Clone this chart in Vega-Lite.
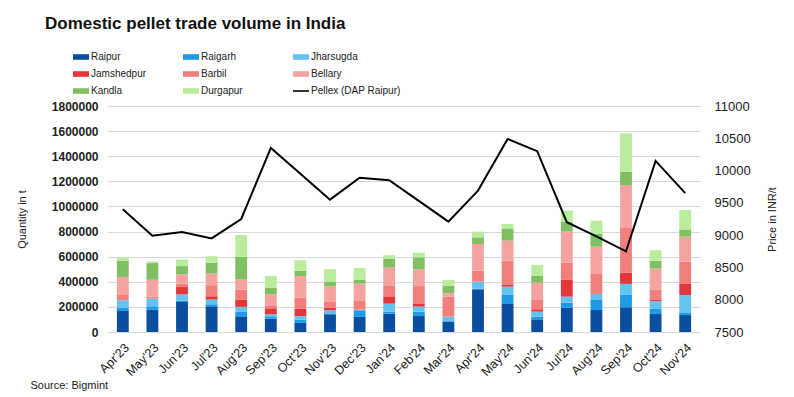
{
  "$schema": "https://vega.github.io/schema/vega-lite/v6.json",
  "width": 592,
  "height": 226,
  "autosize": {"type": "none"},
  "padding": {"left": 108, "top": 106, "right": 94, "bottom": 65},
  "background": "white",
  "title": {
    "text": "Domestic pellet trade volume in India",
    "anchor": "start",
    "frame": "group",
    "dx": -63,
    "dy": -12,
    "font": "Liberation Sans",
    "fontSize": 17,
    "fontWeight": "bold",
    "color": "#111111"
  },
  "config": {
    "view": {"stroke": null},
    "font": "Liberation Sans"
  },
  "datasets": {
    "rank": [
      {"r": "Raipur", "k": 1}, {"r": "Raigarh", "k": 2}, {"r": "Jharsugda", "k": 3}, {"r": "Jamshedpur", "k": 4},
      {"r": "Barbil", "k": 5}, {"r": "Bellary", "k": 6}, {"r": "Kandla", "k": 7}, {"r": "Durgapur", "k": 8}
    ],
    "vol": [
      {"m": "Apr'23", "r": "Raipur", "v": 167000}, {"m": "Apr'23", "r": "Raigarh", "v": 27000}, {"m": "Apr'23", "r": "Jharsugda", "v": 58000}, {"m": "Apr'23", "r": "Barbil", "v": 48000}, {"m": "Apr'23", "r": "Bellary", "v": 138000}, {"m": "Apr'23", "r": "Kandla", "v": 127000}, {"m": "Apr'23", "r": "Durgapur", "v": 24000},
      {"m": "May'23", "r": "Raipur", "v": 178000}, {"m": "May'23", "r": "Raigarh", "v": 27000}, {"m": "May'23", "r": "Jharsugda", "v": 61000}, {"m": "May'23", "r": "Barbil", "v": 15000}, {"m": "May'23", "r": "Bellary", "v": 135000}, {"m": "May'23", "r": "Kandla", "v": 133000}, {"m": "May'23", "r": "Durgapur", "v": 13000},
      {"m": "Jun'23", "r": "Raipur", "v": 239000}, {"m": "Jun'23", "r": "Raigarh", "v": 10000}, {"m": "Jun'23", "r": "Jharsugda", "v": 51000}, {"m": "Jun'23", "r": "Jamshedpur", "v": 58000}, {"m": "Jun'23", "r": "Barbil", "v": 27000}, {"m": "Jun'23", "r": "Bellary", "v": 74000}, {"m": "Jun'23", "r": "Kandla", "v": 66000}, {"m": "Jun'23", "r": "Durgapur", "v": 53000},
      {"m": "Jul'23", "r": "Raipur", "v": 205000}, {"m": "Jul'23", "r": "Raigarh", "v": 16000}, {"m": "Jul'23", "r": "Jharsugda", "v": 37000}, {"m": "Jul'23", "r": "Jamshedpur", "v": 27000}, {"m": "Jul'23", "r": "Barbil", "v": 88000}, {"m": "Jul'23", "r": "Bellary", "v": 93000}, {"m": "Jul'23", "r": "Kandla", "v": 85000}, {"m": "Jul'23", "r": "Durgapur", "v": 53000},
      {"m": "Aug'23", "r": "Raipur", "v": 125000}, {"m": "Aug'23", "r": "Raigarh", "v": 35000}, {"m": "Aug'23", "r": "Jharsugda", "v": 40000}, {"m": "Aug'23", "r": "Jamshedpur", "v": 58000}, {"m": "Aug'23", "r": "Barbil", "v": 80000}, {"m": "Aug'23", "r": "Bellary", "v": 80000}, {"m": "Aug'23", "r": "Kandla", "v": 181000}, {"m": "Aug'23", "r": "Durgapur", "v": 173000},
      {"m": "Sep'23", "r": "Raipur", "v": 106000}, {"m": "Sep'23", "r": "Raigarh", "v": 19000}, {"m": "Sep'23", "r": "Jharsugda", "v": 16000}, {"m": "Sep'23", "r": "Jamshedpur", "v": 48000}, {"m": "Sep'23", "r": "Barbil", "v": 24000}, {"m": "Sep'23", "r": "Bellary", "v": 88000}, {"m": "Sep'23", "r": "Kandla", "v": 53000}, {"m": "Sep'23", "r": "Durgapur", "v": 93000},
      {"m": "Oct'23", "r": "Raipur", "v": 72000}, {"m": "Oct'23", "r": "Raigarh", "v": 27000}, {"m": "Oct'23", "r": "Jharsugda", "v": 27000}, {"m": "Oct'23", "r": "Jamshedpur", "v": 61000}, {"m": "Oct'23", "r": "Barbil", "v": 88000}, {"m": "Oct'23", "r": "Bellary", "v": 170000}, {"m": "Oct'23", "r": "Kandla", "v": 42000}, {"m": "Oct'23", "r": "Durgapur", "v": 85000},
      {"m": "Nov'23", "r": "Raipur", "v": 141000}, {"m": "Nov'23", "r": "Raigarh", "v": 8000}, {"m": "Nov'23", "r": "Jharsugda", "v": 24000}, {"m": "Nov'23", "r": "Jamshedpur", "v": 21000}, {"m": "Nov'23", "r": "Barbil", "v": 45000}, {"m": "Nov'23", "r": "Bellary", "v": 125000}, {"m": "Nov'23", "r": "Kandla", "v": 35000}, {"m": "Nov'23", "r": "Durgapur", "v": 101000},
      {"m": "Dec'23", "r": "Raipur", "v": 120000}, {"m": "Dec'23", "r": "Raigarh", "v": 53000}, {"m": "Dec'23", "r": "Jharsugda", "v": 5000}, {"m": "Dec'23", "r": "Barbil", "v": 74000}, {"m": "Dec'23", "r": "Bellary", "v": 133000}, {"m": "Dec'23", "r": "Kandla", "v": 32000}, {"m": "Dec'23", "r": "Durgapur", "v": 93000},
      {"m": "Jan'24", "r": "Raipur", "v": 146000}, {"m": "Jan'24", "r": "Raigarh", "v": 15000}, {"m": "Jan'24", "r": "Jharsugda", "v": 65000}, {"m": "Jan'24", "r": "Jamshedpur", "v": 58000}, {"m": "Jan'24", "r": "Barbil", "v": 88000}, {"m": "Jan'24", "r": "Bellary", "v": 141000}, {"m": "Jan'24", "r": "Kandla", "v": 72000}, {"m": "Jan'24", "r": "Durgapur", "v": 27000},
      {"m": "Feb'24", "r": "Raipur", "v": 127000}, {"m": "Feb'24", "r": "Raigarh", "v": 35000}, {"m": "Feb'24", "r": "Jharsugda", "v": 40000}, {"m": "Feb'24", "r": "Jamshedpur", "v": 21000}, {"m": "Feb'24", "r": "Barbil", "v": 143000}, {"m": "Feb'24", "r": "Bellary", "v": 133000}, {"m": "Feb'24", "r": "Kandla", "v": 96000}, {"m": "Feb'24", "r": "Durgapur", "v": 37000},
      {"m": "Mar'24", "r": "Raipur", "v": 82000}, {"m": "Mar'24", "r": "Raigarh", "v": 5000}, {"m": "Mar'24", "r": "Jharsugda", "v": 35000}, {"m": "Mar'24", "r": "Barbil", "v": 159000}, {"m": "Mar'24", "r": "Bellary", "v": 27000}, {"m": "Mar'24", "r": "Kandla", "v": 61000}, {"m": "Mar'24", "r": "Durgapur", "v": 45000},
      {"m": "Apr'24", "r": "Raipur", "v": 340000}, {"m": "Apr'24", "r": "Raigarh", "v": 5000}, {"m": "Apr'24", "r": "Jharsugda", "v": 56000}, {"m": "Apr'24", "r": "Barbil", "v": 88000}, {"m": "Apr'24", "r": "Bellary", "v": 212000}, {"m": "Apr'24", "r": "Kandla", "v": 53000}, {"m": "Apr'24", "r": "Durgapur", "v": 45000},
      {"m": "May'24", "r": "Raipur", "v": 223000}, {"m": "May'24", "r": "Raigarh", "v": 72000}, {"m": "May'24", "r": "Jharsugda", "v": 66000}, {"m": "May'24", "r": "Jamshedpur", "v": 13000}, {"m": "May'24", "r": "Barbil", "v": 194000}, {"m": "May'24", "r": "Bellary", "v": 159000}, {"m": "May'24", "r": "Kandla", "v": 98000}, {"m": "May'24", "r": "Durgapur", "v": 35000},
      {"m": "Jun'24", "r": "Raipur", "v": 101000}, {"m": "Jun'24", "r": "Raigarh", "v": 21000}, {"m": "Jun'24", "r": "Jharsugda", "v": 40000}, {"m": "Jun'24", "r": "Jamshedpur", "v": 19000}, {"m": "Jun'24", "r": "Barbil", "v": 74000}, {"m": "Jun'24", "r": "Bellary", "v": 138000}, {"m": "Jun'24", "r": "Kandla", "v": 53000}, {"m": "Jun'24", "r": "Durgapur", "v": 88000},
      {"m": "Jul'24", "r": "Raipur", "v": 194000}, {"m": "Jul'24", "r": "Raigarh", "v": 40000}, {"m": "Jul'24", "r": "Jharsugda", "v": 48000}, {"m": "Jul'24", "r": "Jamshedpur", "v": 133000}, {"m": "Jul'24", "r": "Barbil", "v": 138000}, {"m": "Jul'24", "r": "Bellary", "v": 247000}, {"m": "Jul'24", "r": "Kandla", "v": 80000}, {"m": "Jul'24", "r": "Durgapur", "v": 88000},
      {"m": "Aug'24", "r": "Raipur", "v": 175000}, {"m": "Aug'24", "r": "Raigarh", "v": 80000}, {"m": "Aug'24", "r": "Jharsugda", "v": 48000}, {"m": "Aug'24", "r": "Barbil", "v": 159000}, {"m": "Aug'24", "r": "Bellary", "v": 218000}, {"m": "Aug'24", "r": "Kandla", "v": 101000}, {"m": "Aug'24", "r": "Durgapur", "v": 106000},
      {"m": "Sep'24", "r": "Raipur", "v": 197000}, {"m": "Sep'24", "r": "Raigarh", "v": 98000}, {"m": "Sep'24", "r": "Jharsugda", "v": 88000}, {"m": "Sep'24", "r": "Jamshedpur", "v": 90000}, {"m": "Sep'24", "r": "Barbil", "v": 361000}, {"m": "Sep'24", "r": "Bellary", "v": 337000}, {"m": "Sep'24", "r": "Kandla", "v": 106000}, {"m": "Sep'24", "r": "Durgapur", "v": 305000},
      {"m": "Oct'24", "r": "Raipur", "v": 143000}, {"m": "Oct'24", "r": "Raigarh", "v": 45000}, {"m": "Oct'24", "r": "Jharsugda", "v": 58000}, {"m": "Oct'24", "r": "Jamshedpur", "v": 13000}, {"m": "Oct'24", "r": "Barbil", "v": 80000}, {"m": "Oct'24", "r": "Bellary", "v": 167000}, {"m": "Oct'24", "r": "Kandla", "v": 61000}, {"m": "Oct'24", "r": "Durgapur", "v": 85000},
      {"m": "Nov'24", "r": "Raipur", "v": 135000}, {"m": "Nov'24", "r": "Raigarh", "v": 21000}, {"m": "Nov'24", "r": "Jharsugda", "v": 138000}, {"m": "Nov'24", "r": "Jamshedpur", "v": 93000}, {"m": "Nov'24", "r": "Barbil", "v": 173000}, {"m": "Nov'24", "r": "Bellary", "v": 199000}, {"m": "Nov'24", "r": "Kandla", "v": 58000}, {"m": "Nov'24", "r": "Durgapur", "v": 154000}
    ],
    "price": [
      {"m": "Apr'23", "p": 9400}, {"m": "May'23", "p": 8990}, {"m": "Jun'23", "p": 9050}, {"m": "Jul'23", "p": 8950},
      {"m": "Aug'23", "p": 9250}, {"m": "Sep'23", "p": 10350}, {"m": "Oct'23", "p": 9950}, {"m": "Nov'23", "p": 9550},
      {"m": "Dec'23", "p": 9890}, {"m": "Jan'24", "p": 9850}, {"m": "Feb'24", "p": 9530}, {"m": "Mar'24", "p": 9210},
      {"m": "Apr'24", "p": 9690}, {"m": "May'24", "p": 10490}, {"m": "Jun'24", "p": 10300}, {"m": "Jul'24", "p": 9200},
      {"m": "Aug'24", "p": 8980}, {"m": "Sep'24", "p": 8750}, {"m": "Oct'24", "p": 10150}, {"m": "Nov'24", "p": 9650}
    ]
  },
  "layer": [
    {
      "data": {"name": "vol"},
      "transform": [
        {"lookup": "r", "from": {"data": {"name": "rank"}, "key": "r", "fields": ["k"]}}
      ],
      "mark": {"type": "bar"},
      "encoding": {
        "x": {
          "field": "m",
          "type": "nominal",
          "scale": {
            "domain": ["Apr'23", "May'23", "Jun'23", "Jul'23", "Aug'23", "Sep'23", "Oct'23", "Nov'23", "Dec'23", "Jan'24", "Feb'24", "Mar'24", "Apr'24", "May'24", "Jun'24", "Jul'24", "Aug'24", "Sep'24", "Oct'24", "Nov'24"],
            "paddingInner": 0.6,
            "paddingOuter": 0.3
          },
          "axis": {
            "labelAngle": -45,
            "labelFont": "Liberation Sans",
            "labelFontWeight": "normal",
            "labelFontSize": 12.5,
            "labelColor": "#1a1a1a",
            "labelPadding": 9,
            "ticks": false,
            "domain": true,
            "domainColor": "#d9d9d9",
            "title": "Source: Bigmint",
            "titleX": -78,
            "titleY": 56,
            "titleAlign": "left",
            "titleAnchor": "start",
            "titleBaseline": "alphabetic",
            "titleFont": "Liberation Sans",
            "titleFontWeight": "normal",
            "titleFontSize": 11,
            "titleColor": "#222222"
          }
        },
        "y": {
          "field": "v",
          "type": "quantitative",
          "stack": "zero",
          "scale": {"domain": [0, 1800000]},
          "axis": {
            "values": [0, 200000, 400000, 600000, 800000, 1000000, 1200000, 1400000, 1600000, 1800000],
            "format": "d",
            "labelFont": "Liberation Sans",
            "labelFontWeight": "bold",
            "labelFontSize": 12,
            "labelColor": "#222222",
            "labelPadding": 10,
            "ticks": false,
            "domain": false,
            "gridColor": "#d9d9d9",
            "title": "Quantity in t",
            "titleFont": "Liberation Sans",
            "titleFontWeight": "normal",
            "titleFontSize": 11,
            "titleColor": "#222222",
            "titlePadding": 24
          }
        },
        "order": {"field": "k", "type": "quantitative", "sort": "ascending"},
        "color": {
          "field": "r",
          "type": "nominal",
          "scale": {
            "domain": ["Raipur", "Raigarh", "Jharsugda", "Jamshedpur", "Barbil", "Bellary", "Kandla", "Durgapur", "Pellex (DAP Raipur)"],
            "range": ["#0b4e9f", "#1d9ae8", "#63c3ee", "#e3383b", "#f27f7c", "#f4a3a0", "#80c062", "#b9ed9b", "#000000"]
          },
          "legend": {
            "orient": "none",
            "legendX": -35,
            "legendY": -57,
            "title": null,
            "direction": "horizontal",
            "columns": 3,
            "gridAlign": "all",
            "columnPadding": 2,
            "rowPadding": 4,
            "symbolType": "M-1,-0.35H1V0.35H-1Z",
            "symbolSize": 256,
            "symbolStrokeWidth": 0,
            "labelFont": "Liberation Sans",
            "labelFontSize": 10,
            "labelColor": "#222222",
            "labelOffset": 2,
            "encode": {
              "symbols": {
                "update": {
                  "shape": {"signal": "datum.value === 'Pellex (DAP Raipur)' ? 'M-1,-0.1H1V0.1H-1Z' : 'M-1,-0.35H1V0.35H-1Z'"},
                  "fill": {"scale": "color", "field": "value"},
                  "strokeWidth": {"value": 0},
                  "opacity": {"value": 1}
                }
              }
            }
          }
        }
      }
    },
    {
      "data": {"name": "price"},
      "mark": {"type": "line", "strokeWidth": 2},
      "encoding": {
        "x": {"field": "m", "type": "nominal"},
        "y": {
          "field": "p",
          "type": "quantitative",
          "scale": {"domain": [7500, 11000]},
          "axis": {
            "orient": "right",
            "values": [7500, 8000, 8500, 9000, 9500, 10000, 10500, 11000],
            "format": "d",
            "grid": false,
            "ticks": false,
            "domain": false,
            "labelFont": "Liberation Sans",
            "labelFontSize": 13,
            "labelColor": "#222222",
            "labelPadding": 14,
            "title": "Price in INR/t",
            "titleAngle": 270,
            "titleFont": "Liberation Sans",
            "titleFontWeight": "normal",
            "titleFontSize": 11,
            "titleColor": "#222222",
            "titlePadding": 27
          }
        },
        "color": {"datum": "Pellex (DAP Raipur)"}
      }
    }
  ],
  "resolve": {"scale": {"y": "independent"}}
}
